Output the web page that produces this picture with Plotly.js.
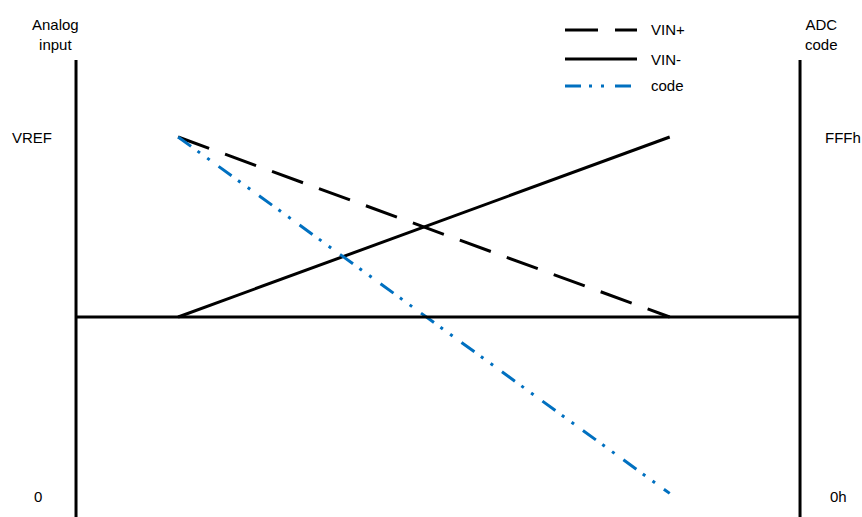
<!DOCTYPE html>
<html>
<head>
<meta charset="utf-8">
<script src="https://cdn.plot.ly/plotly-3.0.1.min.js"></script>
<style>
  body { margin: 0; background: #fff; }
  #chart { width: 862px; height: 517px; }
</style>
</head>
<body>
<div id="chart"></div>
<script>
// time axis: start and end of the conversion sweep (fraction of the frame)
var xSweep = [0.141, 0.82];
// analog input, in units of VREF
var vinPlus = [1, 0.5];
var vinMinus = [0.5, 1];
// ADC code, in units of full scale (FFFh)
var code = [1, 0.01];

var seriesNames = ["VIN+", "VIN-", "code"];
var leftTicks = ["VREF", "0"];
var rightTicks = ["FFFh", "0h"];
var tickLevels = [1, 0];

var black = "#000000";
var blue = "#0070C0";
var dashPlus = "33px,17px";
var dashCode = "16px,8px,3px,9px,3px,11px";

function plot_chart() {
    var data = [
        { x: xSweep, y: vinPlus, mode: "lines", name: seriesNames[0],
          line: { color: black, width: 3, dash: dashPlus } },
        { x: xSweep, y: vinMinus, mode: "lines", name: seriesNames[1],
          line: { color: black, width: 3 } },
        { x: xSweep, y: code, mode: "lines", name: seriesNames[2],
          line: { color: blue, width: 3, dash: dashCode } }
    ];

    var font = { family: "Liberation Sans, Arial, sans-serif", size: 15, color: black };

    // frame: two vertical axes and the mid-scale line
    var shapes = [
        { type: "line", x0: 0, x1: 0, y0: -0.1, y1: 1.214, line: { color: black, width: 3 } },
        { type: "line", x0: 1, x1: 1, y0: -0.1, y1: 1.214, line: { color: black, width: 3 } },
        { type: "line", x0: 0, x1: 1, y0: 0.5, y1: 0.5, line: { color: black, width: 3 } }
    ];

    // hand drawn legend, the sample lines are longer than plotly's
    var legendRows = [30, 59, 86];
    var legendStyles = [
        { color: black, width: 3, dash: dashPlus },
        { color: black, width: 3 },
        { color: blue, width: 3, dash: dashCode }
    ];
    var annotations = [];
    for (var i = 0; i < seriesNames.length; i++) {
        var py = 1 - legendRows[i] / 517;
        shapes.push({ type: "line", xref: "paper", yref: "paper",
            x0: 565 / 862, x1: 637 / 862, y0: py, y1: py, line: legendStyles[i] });
        annotations.push({ xref: "paper", yref: "paper", x: 649 / 862, y: py,
            xanchor: "left", yanchor: "middle", text: seriesNames[i],
            showarrow: false, font: font });
    }

    var leftX = [32, 38];
    var rightX = [843, 838];
    for (var j = 0; j < tickLevels.length; j++) {
        annotations.push({ xref: "paper", yref: "y", x: leftX[j] / 862, y: tickLevels[j],
            xanchor: "center", yanchor: "middle", text: leftTicks[j],
            showarrow: false, font: font });
        annotations.push({ xref: "paper", yref: "y", x: rightX[j] / 862, y: tickLevels[j],
            xanchor: "center", yanchor: "middle", text: rightTicks[j],
            showarrow: false, font: font });
    }

    annotations.push({ xref: "paper", yref: "paper", x: 55 / 862, y: 1 - 34 / 517,
        xanchor: "center", yanchor: "middle", text: "Analog<br>input",
        showarrow: false, font: font });
    annotations.push({ xref: "paper", yref: "paper", x: 821 / 862, y: 1 - 34 / 517,
        xanchor: "center", yanchor: "middle", text: "ADC<br>code",
        showarrow: false, font: font });

    var layout = {
        width: 862,
        height: 517,
        margin: { l: 0, r: 0, t: 0, b: 0 },
        paper_bgcolor: "#ffffff",
        plot_bgcolor: "#ffffff",
        showlegend: false,
        xaxis: { range: [-0.105, 1.0856], visible: false, fixedrange: true },
        yaxis: { range: [-0.0556, 1.3806], visible: false, fixedrange: true },
        shapes: shapes,
        annotations: annotations
    };

    Plotly.newPlot("chart", data, layout, { staticPlot: true });
}

plot_chart();
</script>
</body>
</html>
